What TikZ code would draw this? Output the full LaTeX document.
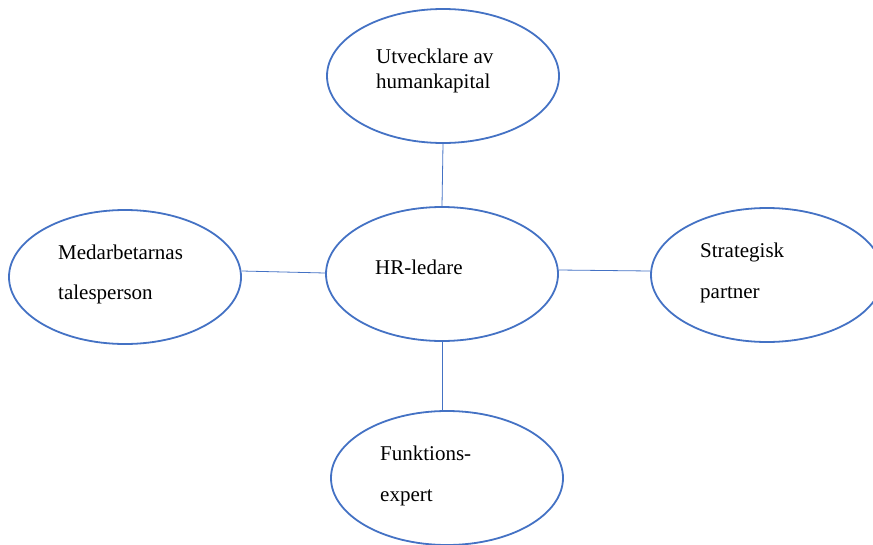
\documentclass[tikz,border=0pt]{standalone}
\usepackage{fontspec}
\setmainfont{Liberation Serif}
\usetikzlibrary{shapes.geometric}
\definecolor{ellblue}{HTML}{4472C4}
\begin{document}
\begin{tikzpicture}[x=1pt,y=-1pt,
  oval/.style={ellipse,draw=ellblue,line width=1.8pt,minimum width=232pt,minimum height=134pt,inner sep=0pt},
  link/.style={draw=ellblue,line width=0.8pt},
  txt/.style={anchor=base west,inner sep=0pt,font=\fontsize{21}{25}\selectfont}]
\useasboundingbox (0,0) rectangle (873,544);
\node[oval] (top) at (443,76) {};
\node[oval] (mid) at (442,274) {};
\node[oval] (left) at (125,277) {};
\node[oval] (right) at (767,275) {};
\node[oval] (bot) at (447,478) {};
\draw[link] (top.south) -- (mid.north);
\draw[link] ([yshift=6pt]left.east) -- ([yshift=1pt]mid.west);
\draw[link] ([yshift=4pt]mid.east) -- ([yshift=4pt]right.west);
\draw[link] (mid.south) -- (mid.south |- bot.north);
\node[txt] (t1) at (376,63) {Utvecklare av};
\node[txt] (t2) at (376,88) {humankapital};
\node[txt] (t3) at (375,274) {HR-ledare};
\node[txt] (t4) at (58,259) {Medarbetarnas};
\node[txt] (t5) at (58,299) {talesperson};
\node[txt] (t6) at (700,257) {Strategisk};
\node[txt] (t7) at (700,298) {partner};
\node[txt] (t8) at (380,460) {Funktions-};
\node[txt] (t9) at (380,501) {expert};
\end{tikzpicture}
\end{document}
